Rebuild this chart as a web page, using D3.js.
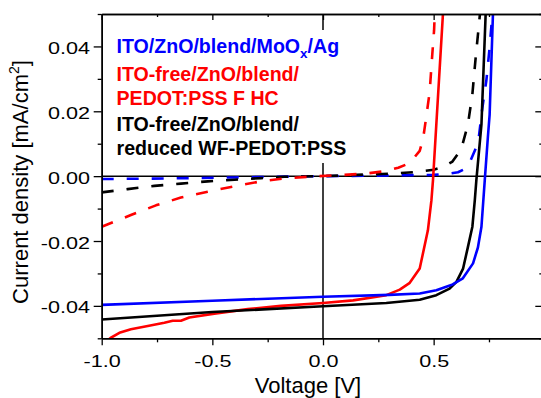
<!DOCTYPE html>
<html>
<head>
<meta charset="utf-8">
<script src="https://cdn.jsdelivr.net/npm/d3@7"></script>
<style>
  html, body { margin: 0; padding: 0; background: #fff; }
  svg { display: block; font-family: "Liberation Sans", Arial, sans-serif; }
</style>
</head>
<body>
<svg id="chart" width="541" height="398"></svg>
<script>
// ---------- data ----------
const xMajorTicks = [-1.0, -0.5, 0.0, 0.5];
const xMinorTicks = [-0.75, -0.25, 0.25, 0.75];
const yMajorTicks = [-0.04, -0.02, 0.0, 0.02, 0.04];
const yMinorTicks = [-0.05, -0.03, -0.01, 0.01, 0.03, 0.05];

// ITO/ZnO/blend/MoOx/Ag  (illuminated, solid)
const blueLightV = [-1.0, -0.5, 0.0, 0.3, 0.437, 0.512, 0.586, 0.632, 0.678, 0.70, 0.716, 0.731, 0.745, 0.753, 0.768];
const blueLightJ = [-0.0397, -0.0384, -0.0372, -0.0366, -0.0362, -0.0352, -0.0334, -0.0315, -0.0269, -0.022, -0.0156, -0.0012, 0.012, 0.019, 0.05];
// ITO/ZnO/blend/MoOx/Ag  (dark, dashed)
const blueDarkV = [-1.0, -0.7, -0.4, -0.2, 0.0, 0.3, 0.5, 0.57, 0.61, 0.64, 0.665, 0.69, 0.705, 0.72, 0.738, 0.753, 0.768];
const blueDarkJ = [-0.0009, -0.0007, -0.0004, -0.0002, 0.0, 0.0002, 0.0004, 0.0008, 0.0012, 0.0022, 0.0045, 0.0085, 0.0125, 0.021, 0.0294, 0.0397, 0.052];

// ITO-free/ZnO/blend/PEDOT:PSS F HC  (illuminated, solid)
const redLightV = [-1.0, -0.96, -0.92, -0.868, -0.792, -0.717, -0.679, -0.642, -0.604, -0.491, -0.34, -0.19, 0.0, 0.136, 0.286, 0.347, 0.392, 0.437, 0.474, 0.49, 0.497, 0.542];
const redLightJ = [-0.052, -0.0499, -0.0483, -0.0472, -0.0462, -0.0452, -0.0446, -0.0446, -0.0436, -0.0424, -0.041, -0.040, -0.0391, -0.0383, -0.0367, -0.035, -0.0329, -0.0285, -0.0167, -0.0074, -0.0012, 0.05];
// ITO-free/ZnO/blend/PEDOT:PSS F HC  (dark, dashed)
const redDarkV = [-1.0, -0.868, -0.755, -0.642, -0.521, -0.4, -0.28, -0.174, -0.05, 0.075, 0.196, 0.286, 0.34, 0.377, 0.40, 0.437, 0.452, 0.466, 0.482, 0.494, 0.502, 0.506];
const redDarkJ = [-0.0156, -0.012, -0.009, -0.0066, -0.0048, -0.0031, -0.0016, -0.0007, -0.0001, 0.0003, 0.0008, 0.0016, 0.0026, 0.0036, 0.0047, 0.0078, 0.0114, 0.018, 0.026, 0.0377, 0.045, 0.052];

// ITO-free/ZnO/blend/reduced WF-PEDOT:PSS  (illuminated, solid)
const blackLightV = [-1.0, -0.5, 0.0, 0.286, 0.437, 0.512, 0.572, 0.603, 0.633, 0.655, 0.675, 0.686, 0.693, 0.716, 0.735];
const blackLightJ = [-0.0442, -0.0419, -0.0401, -0.0391, -0.0381, -0.0367, -0.0347, -0.0326, -0.0285, -0.0218, -0.0156, -0.0074, -0.0012, 0.016, 0.05];
// ITO-free/ZnO/blend/reduced WF-PEDOT:PSS  (dark, dashed)
const blackDarkV = [-1.0, -0.883, -0.762, -0.642, -0.521, -0.4, -0.28, -0.174, 0.0, 0.316, 0.422, 0.5, 0.542, 0.585, 0.625, 0.655, 0.675, 0.69, 0.705, 0.712];
const blackDarkJ = [-0.005, -0.004, -0.003, -0.0023, -0.0016, -0.0011, -0.0006, -0.0002, 0.0, 0.0008, 0.0013, 0.002, 0.0028, 0.0045, 0.0084, 0.016, 0.0253, 0.0366, 0.047, 0.052];

const legendLines = ["ITO/ZnO/blend/MoO", "ITO-free/ZnO/blend/", "PEDOT:PSS F HC", "ITO-free/ZnO/blend/", "reduced WF-PEDOT:PSS"];
const xTitle = "Voltage [V]";
const yTitle = "Current density [mA/cm";

// ---------- layout ----------
const L = 101.7, R = 544.3, T = 14, B = 338.3;
const x = d3.scaleLinear().domain([-1, 1]).range([L, R]);
const y = d3.scaleLinear().domain([-0.05, 0.05]).range([B, T]);

const svg = d3.select("#chart");
svg.append("defs").append("clipPath").attr("id", "plotclip")
  .append("rect").attr("x", L).attr("y", T).attr("width", R - L).attr("height", B - T);

// zero lines
svg.append("line").attr("x1", L).attr("x2", R).attr("y1", y(0)).attr("y2", y(0))
  .attr("stroke", "#000").attr("stroke-width", 1.5);
svg.append("line").attr("x1", x(0)).attr("x2", x(0)).attr("y1", T).attr("y2", B)
  .attr("stroke", "#000").attr("stroke-width", 1.5);

// legend background
svg.append("rect").attr("x", 108).attr("y", 30).attr("width", 245).attr("height", 133).attr("fill", "#fff");

// curves
const series = [
  { v: blueDarkV, j: blueDarkJ, color: "#0000ff", dash: true },
  { v: blackDarkV, j: blackDarkJ, color: "#000000", dash: true },
  { v: redDarkV, j: redDarkJ, color: "#ff0000", dash: true },
  { v: redLightV, j: redLightJ, color: "#ff0000", dash: false },
  { v: blackLightV, j: blackLightJ, color: "#000000", dash: false },
  { v: blueLightV, j: blueLightJ, color: "#0000ff", dash: false },
];
const line = d3.line().x(d => x(d[0])).y(d => y(d[1]));
const gCurves = svg.append("g").attr("clip-path", "url(#plotclip)");
series.forEach(s => {
  gCurves.append("path")
    .attr("d", line(s.v.map((v, i) => [v, s.j[i]])))
    .attr("fill", "none")
    .attr("stroke", s.color)
    .attr("stroke-width", 2.6)
    .attr("stroke-linejoin", "round")
    .attr("stroke-dasharray", s.dash ? "12,13" : null);
});

// axes
const SX = 1.35;
function styleAxis(g) {
  g.select(".domain").attr("stroke", "#000").attr("stroke-width", 1.5);
  g.selectAll(".tick line").attr("stroke", "#000").attr("stroke-width", 1.3);
}
const bottom = svg.append("g").attr("transform", `translate(0,${B})`)
  .call(d3.axisBottom(x).tickValues(xMajorTicks).tickSize(7).tickSizeOuter(0).tickFormat(d => d.toFixed(1)));
styleAxis(bottom);
bottom.selectAll(".tick text").attr("y", 28.4).attr("dy", 0)
  .attr("font-size", 16).attr("font-family", "Liberation Sans, Arial, sans-serif").attr("fill", "#000")
  .attr("transform", `scale(${SX},1)`);
svg.append("g").attr("transform", `translate(0,${B})`)
  .call(d3.axisBottom(x).tickValues(xMinorTicks).tickSize(4).tickSizeOuter(0).tickFormat(""))
  .call(styleAxis);

const left = svg.append("g").attr("transform", `translate(${L},0)`)
  .call(d3.axisLeft(y).tickValues(yMajorTicks).tickSize(8).tickSizeOuter(0).tickFormat(d => d.toFixed(2)));
styleAxis(left);
left.selectAll(".tick text").attr("x", -11.7 / SX).attr("y", 7).attr("dy", 0)
  .attr("font-size", 16).attr("font-family", "Liberation Sans, Arial, sans-serif").attr("fill", "#000")
  .attr("transform", `scale(${SX},1)`);
svg.append("g").attr("transform", `translate(${L},0)`)
  .call(d3.axisLeft(y).tickValues(yMinorTicks).tickSize(4).tickSizeOuter(0).tickFormat(""))
  .call(styleAxis);

// top & right (inward ticks, mirrored)
svg.append("g").attr("transform", `translate(0,${T})`)
  .call(d3.axisTop(x).tickValues(xMajorTicks).tickSize(-6).tickSizeOuter(0).tickFormat(""))
  .call(styleAxis);
svg.append("g").attr("transform", `translate(0,${T})`)
  .call(d3.axisTop(x).tickValues(xMinorTicks).tickSize(-3).tickSizeOuter(0).tickFormat(""))
  .call(styleAxis);
svg.append("g").attr("transform", `translate(${R},0)`)
  .call(d3.axisRight(y).tickValues(yMajorTicks).tickSize(-9).tickSizeOuter(0).tickFormat(""))
  .call(styleAxis);
svg.append("g").attr("transform", `translate(${R},0)`)
  .call(d3.axisRight(y).tickValues(yMinorTicks).tickSize(-5).tickSizeOuter(0).tickFormat(""))
  .call(styleAxis);

// axis titles
svg.append("text").attr("x", 308).attr("y", 393).attr("text-anchor", "middle")
  .attr("font-size", 22).attr("fill", "#000").text(xTitle);
const yt = svg.append("text").attr("transform", "translate(27.5,182) rotate(-90)")
  .attr("text-anchor", "middle").attr("font-size", 22).attr("fill", "#000");
yt.append("tspan").text(yTitle);
yt.append("tspan").attr("font-size", 14).attr("dy", -9).text("2");
yt.append("tspan").attr("dy", 9).text("]");

// legend
const legendColors = ["#0000ff", "#ff0000", "#ff0000", "#000000", "#000000"];
const legendBaselines = [52.5, 81, 105, 130.5, 155];
const lg = svg.append("g").attr("font-weight", "bold").attr("font-size", 19.6);
legendLines.forEach((t, i) => {
  const tx = lg.append("text").attr("x", 116.5).attr("y", legendBaselines[i]).attr("fill", legendColors[i]);
  tx.append("tspan").text(t);
  if (i === 0) {
    tx.append("tspan").attr("font-size", 13.5).attr("dy", 5).text("x");
    tx.append("tspan").attr("dy", -5).text("/Ag");
  }
});
</script>
</body>
</html>
